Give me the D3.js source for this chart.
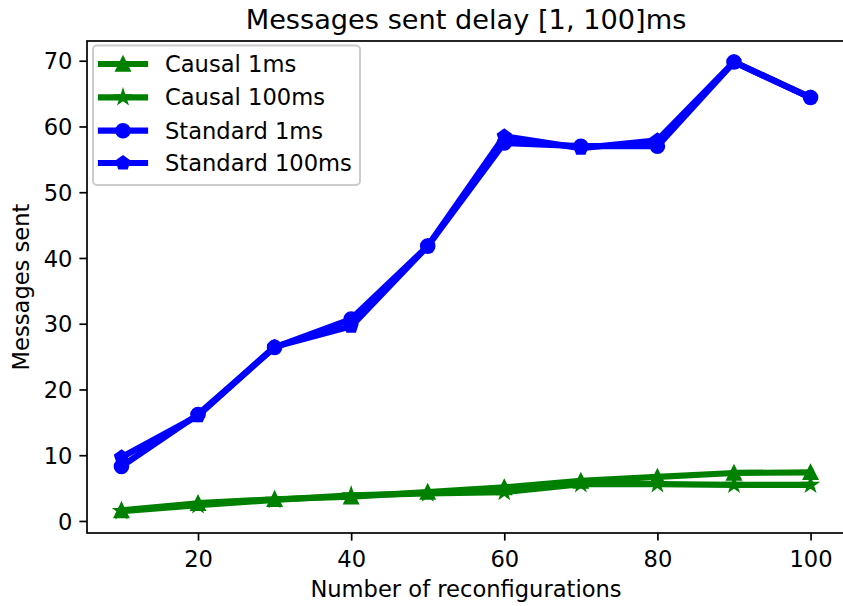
<!DOCTYPE html>
<html>
<head>
<meta charset="utf-8">
<script src="https://cdn.jsdelivr.net/npm/d3@7"></script>
<style>
  html, body { margin: 0; padding: 0; background: #ffffff; }
  svg { display: block; font-family: "DejaVu Sans", sans-serif; }
</style>
</head>
<body>
<svg id="chart" width="843" height="606"></svg>
<script>
// ---------- data ----------
const reconfigurations = [10, 20, 30, 40, 50, 60, 70, 80, 90, 100];
const causal1ms     = [1.6, 2.7, 3.3, 3.7, 4.4, 5.1, 6.1, 6.7, 7.3, 7.4];
const causal100ms   = [1.5, 2.4, 3.2, 3.9, 4.2, 4.4, 5.6, 5.6, 5.5, 5.5];
const standard1ms   = [8.3, 16.2, 26.4, 30.7, 41.8, 57.5, 57.0, 57.0, 69.8, 64.4];
const standard100ms = [9.7, 16.0, 26.5, 29.6, 41.8, 58.5, 56.7, 57.9, 69.8, 64.4];
const xTicks = [20, 40, 60, 80, 100];
const yTicks = [0, 10, 20, 30, 40, 50, 60, 70];
const seriesNames = ["Causal 1ms", "Causal 100ms", "Standard 1ms", "Standard 100ms"];
const seriesValues = [causal1ms, causal100ms, standard1ms, standard100ms];
const seriesColors = ["#008000", "#008000", "#0000ff", "#0000ff"];
const seriesMarkers = ["triangle", "star", "circle", "pentagon"];
const titleText = "Messages sent delay [1, 100]ms";
const xLabelText = "Number of reconfigurations";
const yLabelText = "Messages sent";

// ---------- layout ----------
const plot = { left: 87, right: 845, top: 41, bottom: 533 };
const svg = d3.select("#chart");

const x = d3.scaleLinear().domain([5.5, 104.5]).range([plot.left, plot.right]);
const y = d3.scaleLinear().domain([-1.83, 73.0]).range([plot.bottom, plot.top]);

const FS = 22.6;
const TFS = 27.2;
const LW = 6.2;
const MS = 13.4;
const MEW = 2.2;

// marker shape path generator (centered at 0,0)
function markerPath(kind, s) {
  const r = s / 2;
  const p = d3.path();
  if (kind === "circle") {
    p.arc(0, 0, r, 0, 2 * Math.PI);
    p.closePath();
  } else if (kind === "triangle") {
    p.moveTo(0, -r); p.lineTo(-r, r); p.lineTo(r, r); p.closePath();
  } else if (kind === "star" || kind === "pentagon") {
    const n = kind === "star" ? 10 : 5;
    for (let i = 0; i < n; i++) {
      const a = -Math.PI / 2 + i * 2 * Math.PI / n;
      const rr = (kind === "star" && i % 2 === 1) ? r * 0.381966 : r;
      const px = rr * Math.cos(a), py = rr * Math.sin(a);
      if (i === 0) p.moveTo(px, py); else p.lineTo(px, py);
    }
    p.closePath();
  }
  return p.toString();
}

// ---------- axes ----------
const xAxis = d3.axisBottom(x).tickValues(xTicks).tickSize(7.6).tickPadding(5).tickFormat(d3.format("d"));
const yAxis = d3.axisLeft(y).tickValues(yTicks).tickSize(7.6).tickPadding(7).tickFormat(d3.format("d"));

const gx = svg.append("g").attr("transform", `translate(0,${plot.bottom})`).call(xAxis);
const gy = svg.append("g").attr("transform", `translate(${plot.left},0)`).call(yAxis);
[gx, gy].forEach(g => {
  g.select(".domain").remove();
  g.selectAll(".tick line").attr("stroke", "#000").attr("stroke-width", 1.7);
  g.selectAll(".tick text").attr("fill", "#000").attr("font-size", FS).attr("font-family", "DejaVu Sans");
});
gx.selectAll(".tick text").attr("dy", null)
  .attr("y", 566.5 - plot.bottom);
gy.selectAll(".tick text").attr("dy", "0.36em");

const lineGen = d3.line().x((d, i) => x(reconfigurations[i])).y(d => y(d));

const dataG = svg.append("g");
seriesValues.forEach((vals, k) => {
  const g = dataG.append("g");
  g.append("path").datum(vals)
    .attr("d", lineGen)
    .attr("fill", "none").attr("stroke", seriesColors[k])
    .attr("stroke-width", LW).attr("stroke-linejoin", "round").attr("stroke-linecap", "square");
  g.selectAll("path.m").data(vals).enter().append("path").attr("class", "m")
    .attr("transform", (d, i) => `translate(${x(reconfigurations[i])},${y(d)})`)
    .attr("d", markerPath(seriesMarkers[k], MS))
    .attr("fill", seriesColors[k]).attr("stroke", seriesColors[k]).attr("stroke-width", MEW)
    .attr("stroke-linejoin", "miter");
});

// spines
svg.append("rect")
  .attr("x", plot.left).attr("y", plot.top)
  .attr("width", plot.right - plot.left).attr("height", plot.bottom - plot.top)
  .attr("fill", "none").attr("stroke", "#000").attr("stroke-width", 1.7)
  .attr("stroke-linecap", "square");

// ---------- titles ----------
svg.append("text").attr("x", (plot.left + plot.right) / 2).attr("y", 28.5)
  .attr("text-anchor", "middle").attr("font-size", TFS).attr("fill", "#000").text(titleText);
svg.append("text").attr("x", (plot.left + plot.right) / 2).attr("y", 597)
  .attr("text-anchor", "middle").attr("font-size", FS).attr("fill", "#000").text(xLabelText);
svg.append("text").attr("transform", `translate(28.5,${(plot.top + plot.bottom) / 2}) rotate(-90)`)
  .attr("text-anchor", "middle").attr("font-size", FS).attr("fill", "#000").text(yLabelText);

// ---------- legend ----------
const leg = svg.append("g");
leg.append("rect").attr("x", 93).attr("y", 45.5).attr("width", 267).attr("height", 139.5)
  .attr("rx", 4).attr("ry", 4)
  .attr("fill", "#ffffff").attr("fill-opacity", 0.8)
  .attr("stroke", "#cccccc").attr("stroke-width", 2);
const rowY = [64, 97.3, 130.7, 163];
seriesNames.forEach((name, k) => {
  const cy = rowY[k];
  leg.append("line").attr("x1", 101).attr("x2", 145).attr("y1", cy).attr("y2", cy)
    .attr("stroke", seriesColors[k]).attr("stroke-width", LW).attr("stroke-linecap", "square");
  leg.append("path").attr("transform", `translate(123,${cy})`)
    .attr("d", markerPath(seriesMarkers[k], MS))
    .attr("fill", seriesColors[k]).attr("stroke", seriesColors[k]).attr("stroke-width", MEW);
  leg.append("text").attr("x", 165).attr("y", cy).attr("dy", "0.36em")
    .attr("font-size", FS).attr("fill", "#000").text(name);
});
</script>
</body>
</html>
